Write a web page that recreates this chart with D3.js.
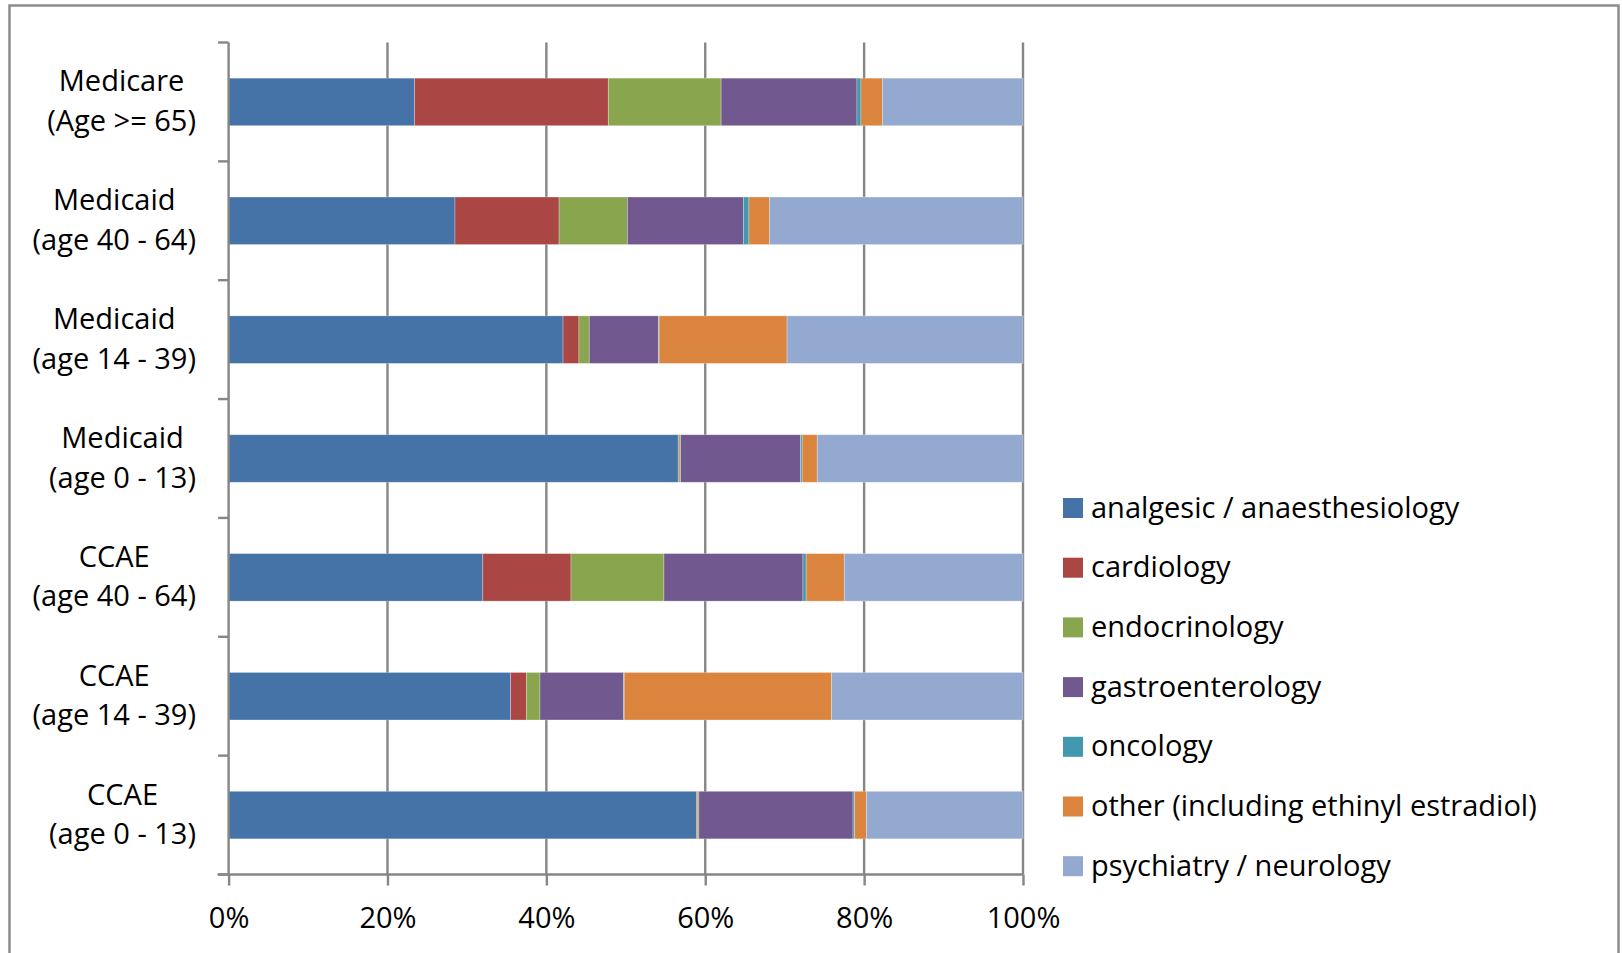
<!DOCTYPE html>
<html>
<head>
<meta charset="utf-8">
<script src="https://cdn.jsdelivr.net/npm/d3@7/dist/d3.min.js"></script>
<style>
  html, body { margin: 0; padding: 0; background: #fff; }
  svg { display: block; font-family: "Open Sans", sans-serif; }
</style>
</head>
<body>
<svg id="chart" width="1622" height="953"></svg>
<script>
// ---- data ----
const categories = [
  ["Medicare", "(Age >= 65)"],
  ["Medicaid", "(age 40 - 64)"],
  ["Medicaid", "(age 14 - 39)"],
  ["Medicaid", "(age 0 - 13)"],
  ["CCAE", "(age 40 - 64)"],
  ["CCAE", "(age 14 - 39)"],
  ["CCAE", "(age 0 - 13)"]
];
const seriesNames = [
  "analgesic / anaesthesiology",
  "cardiology",
  "endocrinology",
  "gastroenterology",
  "oncology",
  "other (including ethinyl estradiol)",
  "psychiatry / neurology"
];
const analgesic     = [23.4, 28.5, 42.1, 56.6, 32.0, 35.5, 58.9];
const cardiology    = [24.4, 13.1,  2.0,  0.1, 11.1,  2.0,  0.1];
const endocrinology = [14.2,  8.6,  1.3,  0.2, 11.7,  1.7,  0.2];
const gastro        = [17.1, 14.6,  8.7, 15.1, 17.5, 10.5, 19.4];
const oncology      = [ 0.5,  0.7,  0.1,  0.2,  0.4,  0.1,  0.2];
const other         = [ 2.7,  2.6, 16.1,  1.9,  4.8, 26.1,  1.5];
const psychiatry    = [17.7, 31.9, 29.7, 25.9, 22.5, 24.1, 19.7];
const xTicks = [0, 0.2, 0.4, 0.6, 0.8, 1.0];
const colors = ["#4572A7", "#AA4643", "#89A54E", "#71588F", "#4198AF", "#DB843D", "#93A9CF"];

const seriesValues = [analgesic, cardiology, endocrinology, gastro, oncology, other, psychiatry];
const table = categories.map((c, i) => {
  const row = { key: i };
  seriesNames.forEach((s, j) => row[s] = seriesValues[j][i]);
  return row;
});

// ---- layout ----
const svg = d3.select("#chart");
const x0 = 228.6, x1 = 1023, yTop = 42.5, yBot = 874.5;
const x = d3.scaleLinear().domain([0, 1]).range([x0, x1]);
const y = d3.scaleBand().domain(d3.range(categories.length)).range([yTop, yBot])
  .paddingInner(0.6).paddingOuter(0.3);
const color = d3.scaleOrdinal().domain(seriesNames).range(colors);
const gridColor = "#868686";
const fontSize = 29;

// outer border
svg.append("rect").attr("x", 9.5).attr("y", 5.5).attr("width", 1609).attr("height", 960)
  .attr("fill", "none").attr("stroke", "#8c8c8c").attr("stroke-width", 2.5);

// gridlines
svg.append("g").selectAll("line").data(xTicks.slice(1)).join("line")
  .attr("x1", d => x(d)).attr("x2", d => x(d))
  .attr("y1", yTop).attr("y2", yBot)
  .attr("stroke", gridColor).attr("stroke-width", 2.4);

// stacked bars
const stack = d3.stack().keys(seriesNames).offset(d3.stackOffsetExpand);
const stacked = stack(table);
svg.append("g").selectAll("g").data(stacked).join("g")
  .attr("fill", d => color(d.key))
  .selectAll("rect").data(d => d).join("rect")
  .attr("x", d => x(d[0]))
  .attr("width", d => Math.max(0, x(d[1]) - x(d[0])))
  .attr("y", (d, i) => y(i))
  .attr("height", y.bandwidth())
  .attr("stroke", "rgba(255,255,255,0.35)").attr("stroke-width", 0.8);

// left axis (category boundaries)
const boundaries = d3.range(categories.length + 1).map(i => yTop + i * (yBot - yTop) / categories.length);
svg.append("line").attr("x1", x0).attr("x2", x0).attr("y1", yTop).attr("y2", yBot)
  .attr("stroke", gridColor).attr("stroke-width", 2.4);
svg.append("g").selectAll("line").data(boundaries).join("line")
  .attr("x1", x0 - 10.5).attr("x2", x0).attr("y1", d => d).attr("y2", d => d)
  .attr("stroke", gridColor).attr("stroke-width", 2.4);

// bottom axis
const xAxis = d3.axisBottom(x).tickValues(xTicks).tickFormat(d3.format(".0%"))
  .tickSizeInner(11).tickSizeOuter(0).tickPadding(14);
const gx = svg.append("g").attr("transform", `translate(0,${yBot})`).call(xAxis);
gx.select(".domain").remove();
gx.selectAll(".tick line").attr("stroke", gridColor).attr("stroke-width", 2.4);
gx.selectAll(".tick text").attr("font-size", fontSize).attr("fill", "#000")
  .attr("font-family", "Open Sans").attr("dy", null).attr("y", 53);
svg.append("line").attr("x1", x0 - 11).attr("x2", x1).attr("y1", yBot).attr("y2", yBot)
  .attr("stroke", gridColor).attr("stroke-width", 2.4);

// category labels (two lines, centred block right-aligned to axis)
const labelRight = 196;
const lab = svg.append("g").attr("font-size", fontSize).attr("fill", "#000");
categories.forEach((lines, i) => {
  const cy = y(i) + y.bandwidth() / 2;
  const g = lab.append("g");
  const texts = lines.map((t, k) => g.append("text").text(t)
    .attr("y", cy - 10.5 + k * 39.5));
  const widths = texts.map(t => t.node().getComputedTextLength());
  const maxW = d3.max(widths);
  const cx = labelRight - maxW / 2;
  texts.forEach(t => t.attr("x", cx).attr("text-anchor", "middle"));
});

// legend
const leg = svg.append("g");
seriesNames.forEach((s, i) => {
  const cy = 508 + i * 59.7;
  leg.append("rect").attr("x", 1063).attr("y", cy - 10).attr("width", 20).attr("height", 20)
    .attr("fill", color(s));
  leg.append("text").attr("x", 1091).attr("y", cy + 9.5).attr("font-size", fontSize)
    .attr("fill", "#000").text(s);
});
</script>
</body>
</html>
